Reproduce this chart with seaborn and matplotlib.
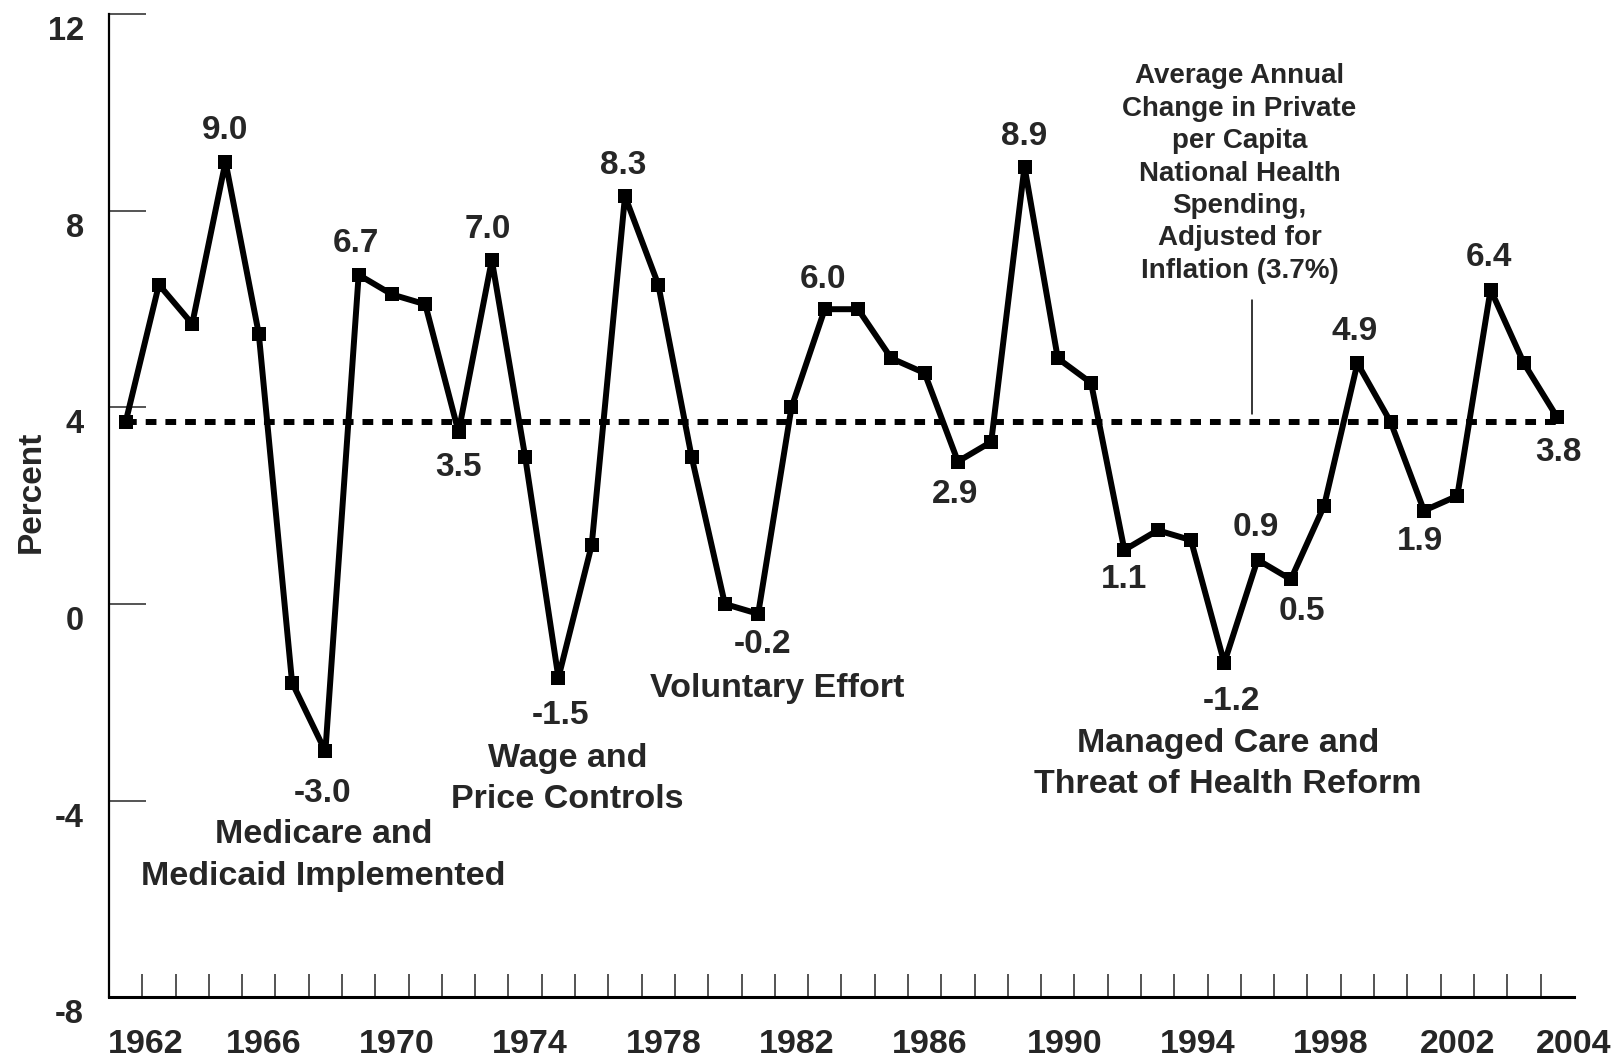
import matplotlib
matplotlib.use("Agg")
import matplotlib.pyplot as plt
import matplotlib.transforms as mtransforms
import pandas as pd
import seaborn as sns

# data
years = list(range(1961, 2005))
pct_change = [3.7, 6.5, 5.7, 9.0, 5.5, -1.6, -3.0, 6.7, 6.3, 6.1,
              3.5, 7.0, 3.0, -1.5, 1.2, 8.3, 6.5, 3.0, 0.0, -0.2,
              4.0, 6.0, 6.0, 5.0, 4.7, 2.9, 3.3, 8.9, 5.0, 4.5,
              1.1, 1.5, 1.3, -1.2, 0.9, 0.5, 2.0, 4.9, 3.7, 1.9,
              2.2, 6.4, 4.9, 3.8]
average = 3.7

label_years = [1964, 1967, 1968, 1971, 1972, 1974, 1976, 1980, 1982, 1986,
               1988, 1991, 1994, 1995, 1996, 1998, 2000, 2002, 2004]

xtick_labels = ['1962', '1966', '1970', '1974', '1978', '1982', '1986',
                '1990', '1994', '1998', '2002', '2004']
ytick_values = [-8, -4, 0, 4, 8, 12]

# label placement (pixels from the point)
label_dx = [0, -3, -3, 0, -4, 2, -2, 4, -2, -3, 0, 0, 7, -2, 11, -3, -4, -2, 1]
label_dy = [31, -42, 31, -35, 31, -38, 31, -31, 30, -33, 30, -30, -39, 32, -32, 32, -31, 32, -35]

df = pd.DataFrame({'year': years, 'pct': pct_change})

sns.set_style('white')
plt.rcParams['font.family'] = ['Liberation Sans', 'DejaVu Sans']
plt.rcParams['font.weight'] = 'bold'

fig = plt.figure(figsize=(16.24, 10.6), dpi=100)
ax = fig.add_axes([0.0671, 0.0594, 0.902, 0.927])

# average line
ax.plot([1961, 2004.2], [average, average], color='black', lw=4.3,
        ls=(0, (1.8, 1.5)), dash_capstyle='butt', zorder=1)

sns.lineplot(data=df, x='year', y='pct', ax=ax, color='black', lw=4.3,
             marker='s', markersize=10, markeredgewidth=0, zorder=3)

# value labels
for yr, dx, dy in zip(label_years, label_dx, label_dy):
    v = pct_change[years.index(yr)]
    ax.annotate(f"{v:.1f}", (yr, v), xytext=(dx, dy), textcoords='offset pixels',
                ha='center', va='center', fontsize=24, fontweight='bold')

# event notes
note_kw = dict(ha='center', va='center', fontsize=24.5, fontweight='bold', linespacing=1.42)
ax.text(1966.94, -5.12, 'Medicare and\nMedicaid Implemented', **note_kw)
ax.text(1974.28, -3.57, 'Wage and\nPrice Controls', **note_kw)
ax.text(1980.56, -1.72, 'Voluntary Effort', **note_kw)
ax.text(1994.11, -3.26, 'Managed Care and\nThreat of Health Reform', **note_kw)

ax.text(1994.46, 8.76, 'Average Annual\nChange in Private\nper Capita\nNational Health\n'
        'Spending,\nAdjusted for\nInflation (3.7%)', ha='center', va='center',
        fontsize=20, fontweight='bold', linespacing=1.32)
ax.plot([1994.83, 1994.83], [3.87, 6.18], color='black', lw=1.1)

# axes
ax.set_xlim(1960.5, 2004.5)
ax.set_ylim(-8, 12)
for s in ['top', 'right']:
    ax.spines[s].set_visible(False)
ax.spines['left'].set_linewidth(1.6)
ax.spines['bottom'].set_linewidth(2.2)
ax.spines['left'].set_color('black')
ax.spines['bottom'].set_color('black')

ax.set_yticks(ytick_values)
ax.set_yticklabels([str(v) for v in ytick_values])
ax.tick_params(axis='y', direction='in', length=26.5, width=1.1, pad=18,
               labelsize=23.5, left=True)
offset = mtransforms.ScaledTranslation(0, -0.14, fig.dpi_scale_trans)
for lab in ax.get_yticklabels():
    lab.set_transform(lab.get_transform() + offset)
    lab.set_fontweight('bold')

ax.set_xticks([y + 0.5 for y in years], minor=True)
ax.set_xticks([1961.6, 1965.15, 1969.15, 1973.15, 1977.15, 1981.15, 1985.15,
               1989.2, 1993.2, 1997.2, 2001.0, 2004.5])
ax.set_xticklabels(xtick_labels)
ax.tick_params(axis='x', which='minor', direction='in', length=16.5, width=1.1, bottom=True)
ax.tick_params(axis='x', which='major', length=0, pad=23, labelsize=24.5, bottom=True)
for lab in ax.get_xticklabels():
    lab.set_fontweight('bold')

ax.set_xlabel('')
ax.set_ylabel('Percent', fontsize=24, fontweight='bold', labelpad=0)
ax.yaxis.set_label_coords(-0.0425, 0.514)

fig.savefig('out.png', dpi=100)
